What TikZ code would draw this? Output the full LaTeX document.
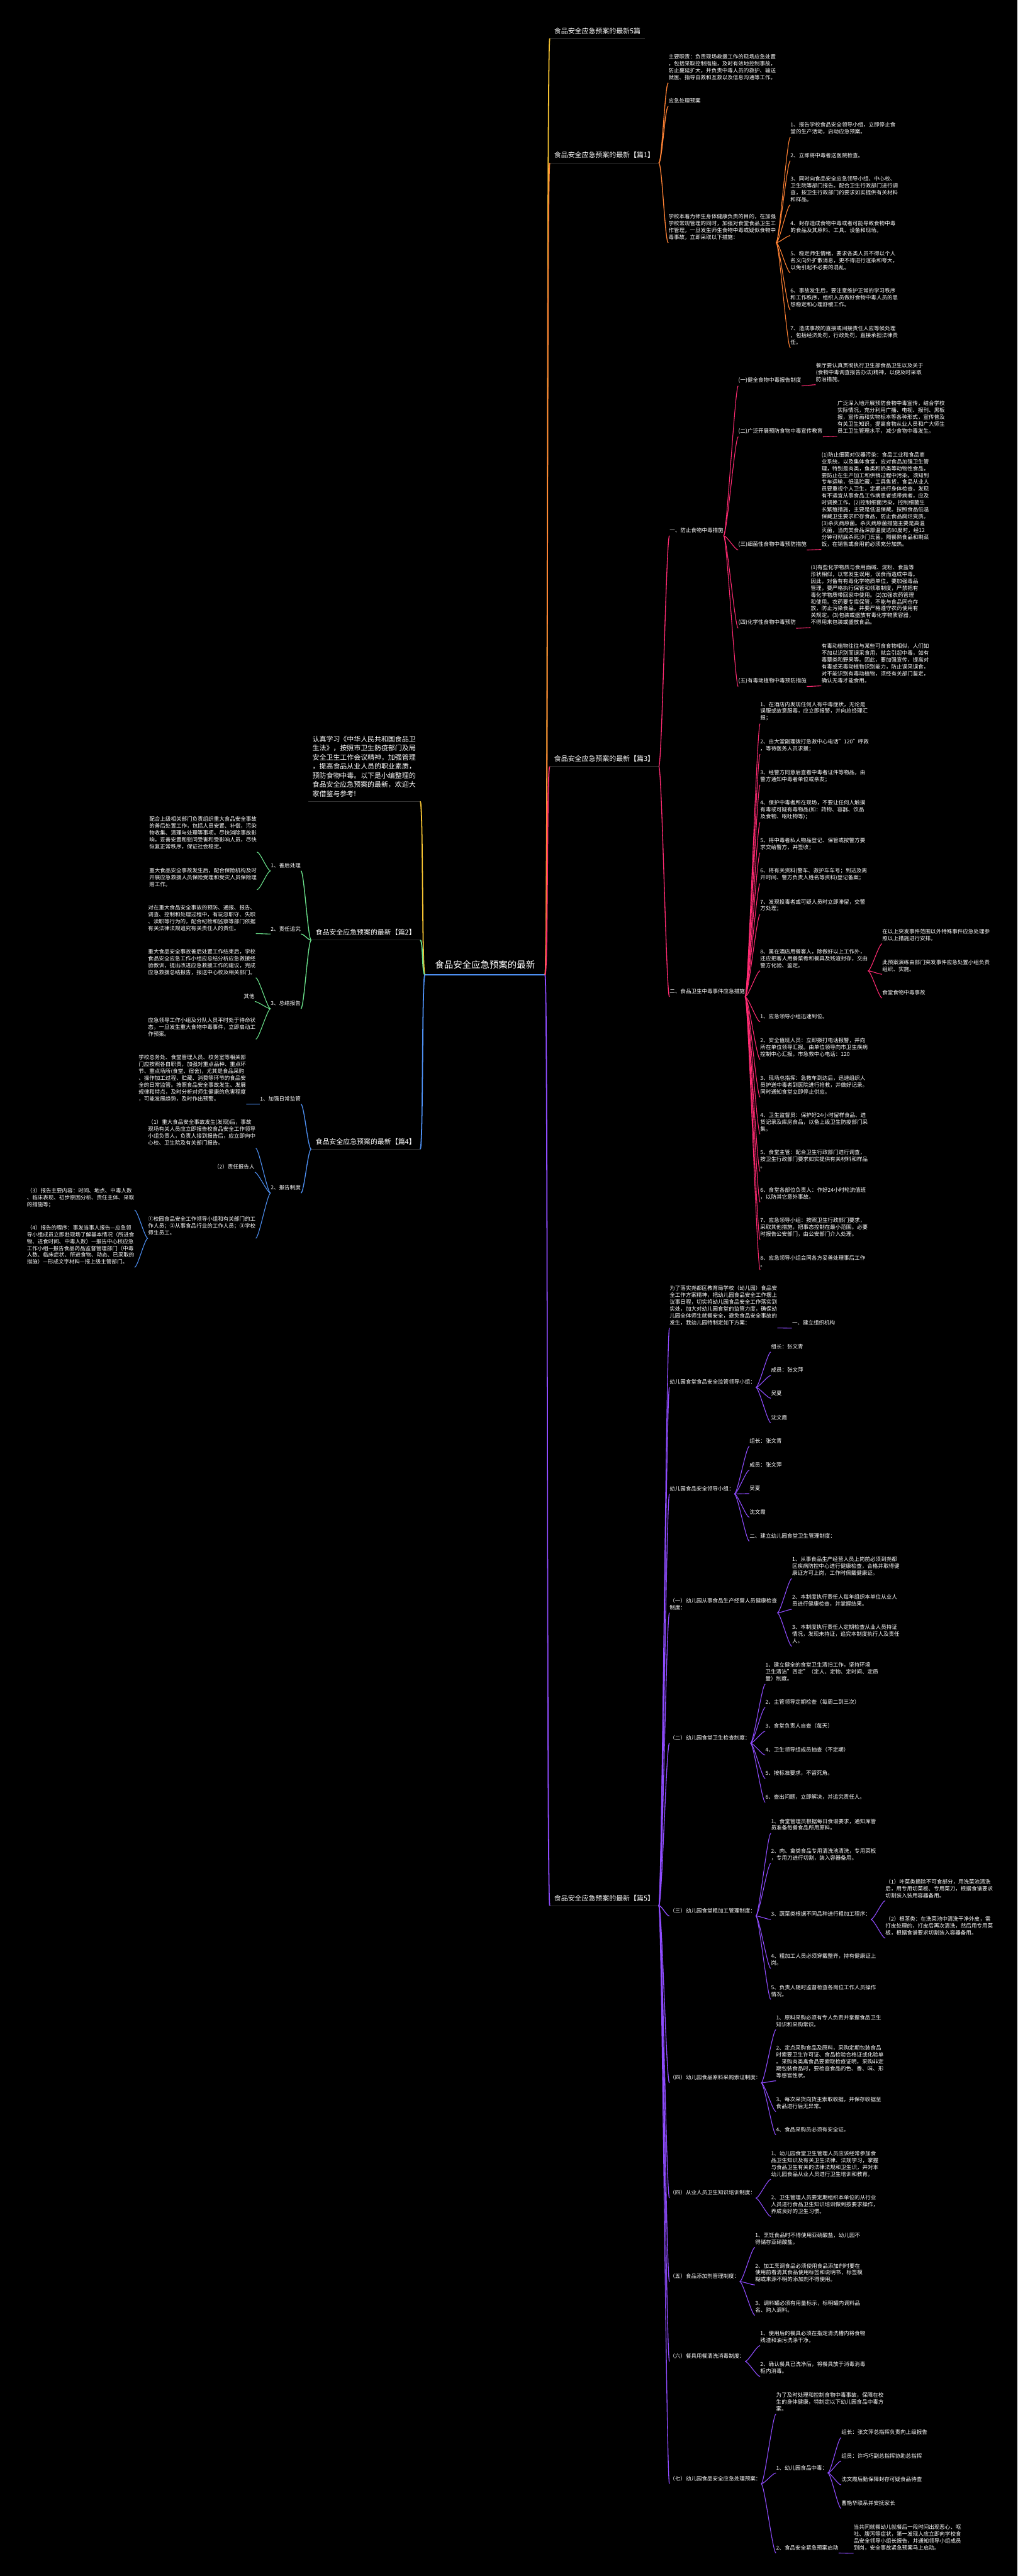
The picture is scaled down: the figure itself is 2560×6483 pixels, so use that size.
\documentclass[tikz,border=0pt]{standalone}
\usepackage{fontspec}
\setmainfont{Noto Sans CJK SC}
\definecolor{cy}{HTML}{F5C232}
\definecolor{co}{HTML}{FF8234}
\definecolor{cp}{HTML}{FF2B72}
\definecolor{cv}{HTML}{8F4CFF}
\definecolor{cg}{HTML}{6BE38C}
\definecolor{cb}{HTML}{4D8FF2}
\definecolor{ulc}{HTML}{333333}
\tikzset{
  leaf/.style={text=white, font=\fontsize{3.84}{4.92}\selectfont, align=left, inner xsep=0pt, inner ysep=1.8pt, anchor=north west},
  leafr/.style={leaf, anchor=north east, align=right},
  ttl/.style={text=white, font=\fontsize{4.92}{6.55}\selectfont, align=left, inner xsep=3pt, inner ysep=3pt},
  rootn/.style={text=white, font=\fontsize{6.5}{8}\selectfont, inner xsep=7pt, inner ysep=4pt, anchor=south west},
  w1/.style={line width=0.8pt},
  w2/.style={line width=0.6pt},
  w3/.style={line width=0.5pt},
  uline/.style={draw=ulc, line width=0.45pt},
}
\newcommand\conR[3]{\draw[#1] (#2.south east) .. controls +(8,0) and +(-8,0) .. (#3.south west);}
\newcommand\conL[3]{\draw[#1] (#2.south west) .. controls +(-8,0) and +(8,0) .. (#3.south east);}
\begin{document}
\begin{tikzpicture}[x=0.01cm,y=-0.01cm]
\useasboundingbox (0,0) rectangle (2560,6483);
\fill[black] (0,0) rectangle (2560,6483);
% root and titles
\node[rootn] (root) at (1069,2453) {食品安全应急预案的最新};
\node[ttl, anchor=south west] (t0) at (1383,97) {食品安全应急预案的最新5篇};
\node[ttl, anchor=south west] (p1) at (1383,410) {食品安全应急预案的最新【篇1】};
\node[ttl, anchor=south west] (p3) at (1383,1929) {食品安全应急预案的最新【篇3】};
\node[ttl, anchor=south west] (p5) at (1383,4796) {食品安全应急预案的最新【篇5】};
\node[ttl, anchor=south east] (intro) at (1057,2017) {认真学习《中华人民共和国食品卫\\生法》，按照市卫生防疫部门及局\\安全卫生工作会议精神，加强管理\\，提高食品从业人员的职业素质，\\预防食物中毒。以下是小编整理的\\食品安全应急预案的最新，欢迎大\\家借鉴与参考!};
\node[ttl, anchor=south east] (l2) at (1057,2366) {食品安全应急预案的最新【篇2】};
\node[ttl, anchor=south east] (l4) at (1057,2892) {食品安全应急预案的最新【篇4】};
\draw[cb, line width=0.8pt] (root.south west) -- (root.south east);
\foreach \n in {t0,p1,p3,p5,intro,l2,l4}{\draw[uline] (\n.south west) -- (\n.south east);}

% ===== 篇1 =====
\node[leaf] (a1) at (1681,130) {主要职责：负责现场救援工作的现场应急处置\\，包括采取控制措施，及时有效地控制事故，\\防止蔓延扩大，并负责中毒人员的救护、输送\\就医、指导自救和互救以及信息沟通等工作。};
\node[leaf] (a2) at (1681,241) {应急处理预案};
\node[leaf] (a3) at (1681,532) {学校本着为师生身体健康负责的目的，在加强\\学校常规管理的同时，加强对食堂食品卫生工\\作管理，一旦发生师生食物中毒或疑似食物中\\毒事故，立即采取以下措施：};
\node[leaf] (b1) at (1988,301) {1、报告学校食品安全领导小组，立即停止食\\堂的生产活动，启动应急预案。};
\node[leaf] (b2) at (1988,378) {2、立即将中毒者送医院检查。};
\node[leaf] (b3) at (1988,437) {3、同时向食品安全应急领导小组、中心校、\\卫生院等部门报告。配合卫生行政部门进行调\\查，按卫生行政部门的要求如实提供有关材料\\和样品。};
\node[leaf] (b4) at (1988,549) {4、封存造成食物中毒或者可能导致食物中毒\\的食品及其原料、工具、设备和现场。};
\node[leaf] (b5) at (1988,625) {5、稳定师生情绪，要求各类人员不得以个人\\名义向外扩散消息，更不得进行渲染和夸大，\\以免引起不必要的混乱。};
\node[leaf] (b6) at (1988,719) {6、事故发生后，要注意维护正常的学习秩序\\和工作秩序，组织人员做好食物中毒人员的思\\想稳定和心理舒缓工作。};
\node[leaf] (b7) at (1988,814) {7、造成事故的直接或间接责任人应等候处理\\，包括经济处罚，行政处罚，直接承担法律责\\任。};

% ===== 篇3 =====
\node[leaf] (c1) at (1684,1321.5) {一、防止食物中毒措施};
\node[leaf] (c2) at (1684,2482) {二、食品卫生中毒事件应急措施};
\node[leaf] (d1) at (1857,943) {(一)健全食物中毒报告制度};
\node[leaf] (dx1) at (2052,907) {餐厅要认真贯彻执行卫生部食品卫生以及关于\\(食物中毒调查报告办法)精神，以便及时采取\\防治措施。};
\node[leaf] (d2) at (1857,1071) {(二)广泛开展预防食物中毒宣传教育};
\node[leaf] (dx2) at (2106,1002) {广泛深入地开展预防食物中毒宣传，结合学校\\实际情况，充分利用广播、电视、报刊、黑板\\报，宣传画和实物标本等各种形式，宣传普及\\有关卫生知识，提高食物从业人员和广大师生\\员工卫生管理水平，减少食物中毒发生。};
\node[leaf] (d3) at (1857,1356) {(三)细菌性食物中毒预防措施};
\node[leaf] (dx3) at (2066,1131) {(1)防止细菌对仪器污染：食品工业和食品商\\业系统，以及集体食堂，应对食品加强卫生管\\理，特别是肉类，鱼类和奶类等动物性食品，\\要防止在生产加工和供销过程中污染。须知到\\专车运输，低温贮藏，工具售货，食品从业人\\员要重视个人卫生，定期进行身体检查，发现\\有不适宜从事食品工作病患者或带病者，应及\\时调换工作。(2)控制细菌污染，控制细菌生\\长繁殖措施，主要是低温保藏。按照食品低温\\保藏卫生要求贮存食品，防止食品腐烂变质。\\(3)杀灭病原菌。杀灭病原菌措施主要是高温\\灭菌，当肉类食品深部温度达80度时，经12\\分钟可彻底杀死沙门氏菌。隔餐熟食品和剩菜\\饭，在销售或食用前必须充分加热。};
\node[leaf] (d4) at (1857,1553) {(四)化学性食物中毒预防};
\node[leaf] (dx4) at (2039,1414.5) {(1)有些化学物质与食用面碱、淀粉、食盐等\\形状相似，以常发生误用，误食而造成中毒。\\因此，对备有有毒化学物质单位，要加强毒品\\管理，要严格执行保管和领取制度，严禁把有\\毒化学物质带回家中使用。(2)加强农药管理\\和使用。农药要专库保管，不能与食品同仓存\\放，防止污染食品。并要严格遵守农药使用有\\关规定。(3)包装或盛放有毒化学物质容器，\\不得用来包装或盛放食品。};
\node[leaf] (d5) at (1857,1699.5) {(五)有毒动植物中毒预防措施};
\node[leaf] (dx5) at (2066,1613) {有毒动植物往往与某些可食食物相似，人们如\\不加以识别而误采食用，就会引起中毒，如有\\毒蕈类和野果等。因此，要加强宣传，提高对\\有毒或无毒动植物识别能力，防止误采误食，\\对不能识别有毒动植物，须经有关部门鉴定，\\确认无毒才能食用。};
\node[leaf] (e1) at (1912,1759) {1、在酒店内发现任何人有中毒症状，无论是\\误服或故意服毒，应立即报警，并向总经理汇\\报；};
\node[leaf] (e2) at (1912,1853) {2、由大堂副理拨打急救中心电话"120"呼救\\，等待医务人员求援；};
\node[leaf] (e3) at (1912,1930) {3、经警方同意后查看中毒者证件等物品，由\\警方通知中毒者单位或亲友；};
\node[leaf] (e4) at (1912,2007) {4、保护中毒者所在现场，不要让任何人触摸\\有毒或可疑有毒物品(如：药物、容器、饮品\\及食物、呕吐物等)；};
\node[leaf] (e5) at (1912,2101) {5、将中毒者私人物品登记、保管或按警方要\\求交给警方，并签收；};
\node[leaf] (e6) at (1912,2178) {6、将有关资料(警车、救护车车号；到达及离\\开时间、警方负责人姓名等资料)登记备案；};
\node[leaf] (e7) at (1912,2256) {7、发现投毒者或可疑人员时立即滞留，交警\\方处理；};
\node[leaf] (e8) at (1912,2382) {8、属在酒店用餐客人，除做好以上工作外，\\还应把客人用餐菜肴和餐具及残渣封存，交由\\警方化验、鉴定。};
\node[leaf] (f1) at (2219,2331) {在以上突发事件范围以外特殊事件应急处理参\\照以上措施进行安排。};
\node[leaf] (f2) at (2219,2408) {此预案演练由部门突发事件应急处置小组负责\\组织、实施。};
\node[leaf] (f3) at (2219,2485) {食堂食物中毒事故};
\node[leaf] (e9) at (1912,2545) {1、应急领导小组迅速到位。};
\node[leaf] (e10) at (1912,2605) {2、安全值班人员：立即拨打电话报警，并向\\所在单位领导汇报。由单位领导向市卫生疾病\\控制中心汇报。市急救中心电话：120};
\node[leaf] (e11) at (1912,2700) {3、现场总指挥：急救车到达后，迅速组织人\\员护送中毒者到医院进行抢救，并做好记录。\\同时通知食堂立即停止供应。};
\node[leaf] (e12) at (1912,2793) {4、卫生监督员：保护好24小时留样食品、进\\货记录及库房食品，以备上级卫生防疫部门采\\集。};
\node[leaf] (e13) at (1912,2887) {5、食堂主管：配合卫生行政部门进行调查，\\按卫生行政部门要求如实提供有关材料和样品\\。};
\node[leaf] (e14) at (1912,2981) {6、食堂各部位负责人：作好24小时轮流值班\\，以防其它意外事故。};
\node[leaf] (e15) at (1912,3058) {7、应急领导小组：按照卫生行政部门要求，\\采取其他措施，把事态控制在最小范围。必要\\时报告公安部门，由公安部门介入处理。};
\node[leaf] (e16) at (1912,3152) {8、应急领导小组会同各方妥善处理事后工作\\。};

% ===== 篇5 =====
\node[leaf] (g1) at (1684,3228.5) {为了落实尧都区教育局学校（幼儿园）食品安\\全工作方案精神，把幼儿园食品安全工作摆上\\议事日程，切实将幼儿园食品安全工作落实到\\实处，加大对幼儿园食堂的监管力度，确保幼\\儿园全体师生就餐安全，避免食品安全事故的\\发生，我幼儿园特制定如下方案：};
\node[leaf] (g1a) at (1992,3316) {一、建立组织机构};
\node[leaf] (g2) at (1684,3465) {幼儿园食堂食品安全监管领导小组：};
\node[leaf] (g2a) at (1939,3376) {组长：张文青};
\node[leaf] (g2b) at (1939,3435) {成员：张文萍};
\node[leaf] (g2c) at (1939,3493) {吴夏};
\node[leaf] (g2d) at (1939,3554) {沈文霞};
\node[leaf] (g3) at (1684,3733) {幼儿园食品安全领导小组：};
\node[leaf] (g3a) at (1885,3613) {组长：张文青};
\node[leaf] (g3b) at (1885,3673) {成员：张文萍};
\node[leaf] (g3c) at (1885,3733) {吴夏};
\node[leaf] (g3d) at (1885,3792) {沈文霞};
\node[leaf] (g3e) at (1885,3852) {二、建立幼儿园食堂卫生管理制度：};
\node[leaf] (g4) at (1684,4015) {（一）幼儿园从事食品生产经营人员健康检查\\制度：};
\node[leaf] (g4a) at (1992,3911) {1、从事食品生产经营人员上岗前必须到尧都\\区疾病防控中心进行健康检查，合格并取得健\\康证方可上岗，工作时佩戴健康证。};
\node[leaf] (g4b) at (1992,4006) {2、本制度执行责任人每年组织本单位从业人\\员进行健康检查，并掌握结果。};
\node[leaf] (g4c) at (1992,4082) {3、本制度执行责任人定期检查从业人员持证\\情况，发现未持证，追究本制度执行人及责任\\人。};
\node[leaf] (g5) at (1684,4360) {（二）幼儿园食堂卫生检查制度：};
\node[leaf] (g5a) at (1925,4177) {1、建立健全的食堂卫生清扫工作，坚持环境\\卫生清洁"四定"（定人、定物、定时间、定质\\量）制度。};
\node[leaf] (g5b) at (1925,4270) {2、主管领导定期检查（每周二到三次）};
\node[leaf] (g5c) at (1925,4330) {3、食堂负责人自查（每天）};
\node[leaf] (g5d) at (1925,4390) {4、卫生领导组成员抽查（不定期）};
\node[leaf] (g5e) at (1925,4449) {5、按标准要求，不留死角。};
\node[leaf] (g5f) at (1925,4509) {6、查出问题，立即解决，并追究责任人。};
\node[leaf] (g6) at (1684,4795) {（三）幼儿园食堂粗加工管理制度：};
\node[leaf] (g6a) at (1939,4570) {1、食堂管理员根据每日食谱要求，通知库管\\员准备每餐食品所用原料。};
\node[leaf] (g6b) at (1939,4645) {2、肉、禽类食品专用清洗池清洗，专用菜板\\，专用刀进行切割，装入容器备用。};
\node[leaf] (g6c) at (1939,4804) {3、蔬菜类根据不同品种进行粗加工程序：};
\node[leaf] (g6ca) at (2227,4722) {（1）叶菜类摘除不可食部分，用洗菜池清洗\\后，用专用切菜板、专用菜刀，根据食谱要求\\切割装入装用容器备用。};
\node[leaf] (g6cb) at (2227,4816) {（2）根茎类：在洗菜池中清洗干净外皮，需\\打皮处理的，打皮后再次清洗，然后用专用菜\\板，根据食谱要求切割装入容器备用。};
\node[leaf] (g6d) at (1939,4910) {4、粗加工人员必须穿戴整齐，持有健康证上\\岗。};
\node[leaf] (g6e) at (1939,4988) {5、负责人随时监督检查各岗位工作人员操作\\情况。};
\node[leaf] (g7) at (1684,5215) {（四）幼儿园食品原料采购索证制度：};
\node[leaf] (g7a) at (1952,5064) {1、原料采购必须有专人负责并掌握食品卫生\\知识和采购常识。};
\node[leaf] (g7b) at (1952,5141) {2、定点采购食品及原料，采购定期包装食品\\时索要卫生许可证、食品检验合格证或化验单\\。采购肉类禽食品要索取检疫证明，采购非定\\期包装食品时，要检查食品的色、香、味、形\\等感官性状。};
\node[leaf] (g7c) at (1952,5270) {3、每次采货向货主索取收据，并保存收据至\\食品进行后无异常。};
\node[leaf] (g7d) at (1952,5346) {4、食品采购员必须有安全证。};
\node[leaf] (g8) at (1684,5505) {（四）从业人员卫生知识培训制度：};
\node[leaf] (g8a) at (1939,5406) {1、幼儿园食堂卫生管理人员应该经常参加食\\品卫生知识及有关卫生法律、法规学习，掌握\\与食品卫生有关的法律法规和卫生识，并对本\\幼儿园食品从业人员进行卫生培训和教育。};
\node[leaf] (g8b) at (1939,5517) {2、卫生管理人员要定期组织本单位的从行业\\人员进行食品卫生知识培训做到按要求操作，\\养成良好的卫生习惯。};
\node[leaf] (g9) at (1684,5715) {（五）食品添加剂管理制度：};
\node[leaf] (g9a) at (1899,5612) {1、烹饪食品时不得使用亚硝酸盐，幼儿园不\\得储存亚硝酸盐。};
\node[leaf] (g9b) at (1899,5689) {2、加工烹调食品必须使用食品添加剂时要在\\使用前看清其食品使用标签和说明书，标签模\\糊或来源不明的添加剂不得使用。};
\node[leaf] (g9c) at (1899,5783) {3、调料罐必须有用量标示，标明罐内调料品\\名、购入调料。};
\node[leaf] (g10) at (1684,5916) {（六）餐具用餐清洗消毒制度：};
\node[leaf] (g10a) at (1912,5859) {1、使用后的餐具必须在指定清洗槽内将食物\\残渣和油污洗涤干净。};
\node[leaf] (g10b) at (1912,5937) {2、确认餐具已洗净后，将餐具放于消毒消毒\\柜内消毒。};
\node[leaf] (g11) at (1684,6224) {（七）幼儿园食品安全应急处理预案：};
\node[leaf] (g11a) at (1952,6014) {为了及时处理和控制食物中毒事故，保障在校\\生的身体健康，特制定以下幼儿园食品中毒方\\案。};
\node[leaf] (g11b) at (1952,6197) {1、幼儿园食品中毒：};
\node[leaf] (g11ba) at (2116,6108) {组长：张文萍总指挥负责向上级报告};
\node[leaf] (g11bb) at (2116,6167) {组员：许巧巧副总指挥协助总指挥};
\node[leaf] (g11bc) at (2116,6227) {沈文霞后勤保障封存可疑食品待查};
\node[leaf] (g11bd) at (2116,6286) {曹艳华联系并安抚家长};
\node[leaf] (g11c) at (1952,6398.5) {2、食品安全紧急预案启动};
\node[leaf] (g11ca) at (2147,6347) {当共同就餐幼儿就餐后一段时间出现恶心、呕\\吐、腹泻等症状，第一发现人应立即向学校食\\品安全领导小组长报告，并通知领导小组成员\\到岗，安全事故紧急预案马上启动。};

% ===== 篇2 (left) =====
\node[leafr] (h1) at (757,2165) {1、善后处理};
\node[leafr] (h2) at (757,2324) {2、责任追究};
\node[leafr] (h3) at (757,2512) {3、总结报告};
\node[leaf] (h1a) at (375,2048) {配合上级相关部门负责组织重大食品安全事故\\的善后处置工作，包括人员安置、补偿，污染\\物收集、清理与处理等事项。尽快消除事故影\\响，妥善安置和慰问受害和受影响人员，尽快\\恢复正常秩序，保证社会稳定。};
\node[leaf] (h1b) at (375,2178) {重大食品安全事故发生后，配合保险机构及时\\开展应急救援人员保险受理和受灾人员保险理\\赔工作。};
\node[leaf] (h2a) at (372,2271) {对在重大食品安全事故的预防、通报、报告、\\调查、控制和处理过程中，有玩忽职守、失职\\、渎职等行为的，配合纪检和监察等部门依据\\有关法律法规追究有关责任人的责任。};
\node[leaf] (h3a) at (372,2382) {重大食品安全事故善后处置工作结束后，学校\\食品安全应急工作小组应总结分析应急救援经\\验教训，提出改进应急救援工作的建议，完成\\应急救援总结报告，报送中心校及相关部门。};
\node[leafr] (h3b) at (641,2494) {其他};
\node[leaf] (h3c) at (372,2554) {应急领导工作小组及分队人员平时处于待命状\\态，一旦发生重大食物中毒事件，立即启动工\\作预案。};

% ===== 篇4 (left) =====
\node[leafr] (k1) at (757,2752) {1、加强日常监管};
\node[leafr] (k2) at (757,2976) {2、报告制度};
\node[leaf] (k1a) at (348,2648) {学校总务处、食堂管理人员、校务室等相关部\\门应按照各自职责，加强对重点品种、重点环\\节、重点场所(食堂、宿舍)，尤其是食品采购\\、操作加工过程、贮藏、消费等环节的食品安\\全的日常监管。按照食品安全事故发生、发展\\规律和特点，及时分析对师生健康的危害程度\\，可能发展趋势，及时作出预警。};
\node[leaf] (k2a) at (372,2811) {（1）重大食品安全事故发生(发现)后，事故\\现场有关人员应立即报告校食品安全工作领导\\小组负责人，负责人接到报告后，应立即向中\\心校、卫生院及有关部门报告。};
\node[leafr] (k2b) at (641,2923) {（2）责任报告人};
\node[leaf] (k2c) at (372,3055) {①校园食品安全工作领导小组和有关部门的工\\作人员；②从事食品行业的工作人员；③学校\\师生员工。};
\node[leaf] (k2ca) at (67,2983) {（3）报告主要内容：时间、地点、中毒人数\\、临床表现、初步原因分析、责任主体、采取\\的措施等；};
\node[leaf] (k2cb) at (67,3076) {（4）报告的程序：事发当事人报告—应急领\\导小组成员立即赴现场了解基本情况（所进食\\物、进食时间、中毒人数）—报告中心校应急\\工作小组—报告食品药品监督管理部门（中毒\\人数、临床症状、所进食物、动态、已采取的\\措施）—形成文字材料—报上级主管部门。};

% ===== connectors =====
\conR{cy,w1}{root}{t0}
\conR{co,w1}{root}{p1}
\conR{cp,w1}{root}{p3}
\conR{cv,w1}{root}{p5}
\conL{cy,w1}{root}{intro}
\conL{cg,w1}{root}{l2}
\conL{cb,w1}{root}{l4}
% 篇1
\foreach \c in {a1,a2,a3}{\conR{co,w2}{p1}{\c}}
\foreach \c in {b1,b2,b3,b4,b5,b6,b7}{\conR{co,w3}{a3}{\c}}
% 篇3
\foreach \c in {c1,c2}{\conR{cp,w2}{p3}{\c}}
\foreach \c in {d1,d2,d3,d4,d5}{\conR{cp,w3}{c1}{\c}}
\conR{cp,w3}{d1}{dx1}
\conR{cp,w3}{d2}{dx2}
\conR{cp,w3}{d3}{dx3}
\conR{cp,w3}{d4}{dx4}
\conR{cp,w3}{d5}{dx5}
\foreach \c in {e1,e2,e3,e4,e5,e6,e7,e8,e9,e10,e11,e12,e13,e14,e15,e16}{\conR{cp,w3}{c2}{\c}}
\foreach \c in {f1,f2,f3}{\conR{cp,w3}{e8}{\c}}
% 篇5
\foreach \c in {g1,g2,g3,g4,g5,g6,g7,g8,g9,g10,g11}{\conR{cv,w2}{p5}{\c}}
\conR{cv,w3}{g1}{g1a}
\foreach \c in {g2a,g2b,g2c,g2d}{\conR{cv,w3}{g2}{\c}}
\foreach \c in {g3a,g3b,g3c,g3d,g3e}{\conR{cv,w3}{g3}{\c}}
\foreach \c in {g4a,g4b,g4c}{\conR{cv,w3}{g4}{\c}}
\foreach \c in {g5a,g5b,g5c,g5d,g5e,g5f}{\conR{cv,w3}{g5}{\c}}
\foreach \c in {g6a,g6b,g6c,g6d,g6e}{\conR{cv,w3}{g6}{\c}}
\foreach \c in {g6ca,g6cb}{\conR{cv,w3}{g6c}{\c}}
\foreach \c in {g7a,g7b,g7c,g7d}{\conR{cv,w3}{g7}{\c}}
\foreach \c in {g8a,g8b}{\conR{cv,w3}{g8}{\c}}
\foreach \c in {g9a,g9b,g9c}{\conR{cv,w3}{g9}{\c}}
\foreach \c in {g10a,g10b}{\conR{cv,w3}{g10}{\c}}
\foreach \c in {g11a,g11b,g11c}{\conR{cv,w3}{g11}{\c}}
\foreach \c in {g11ba,g11bb,g11bc,g11bd}{\conR{cv,w3}{g11b}{\c}}
\conR{cv,w3}{g11c}{g11ca}
% 篇2
\foreach \c in {h1,h2,h3}{\conL{cg,w2}{l2}{\c}}
\foreach \c in {h1a,h1b}{\conL{cg,w3}{h1}{\c}}
\conL{cg,w3}{h2}{h2a}
\foreach \c in {h3a,h3b,h3c}{\conL{cg,w3}{h3}{\c}}
% 篇4
\foreach \c in {k1,k2}{\conL{cb,w2}{l4}{\c}}
\conL{cb,w3}{k1}{k1a}
\foreach \c in {k2a,k2b,k2c}{\conL{cb,w3}{k2}{\c}}
\foreach \c in {k2ca,k2cb}{\conL{cb,w3}{k2c}{\c}}
\end{tikzpicture}
\end{document}
